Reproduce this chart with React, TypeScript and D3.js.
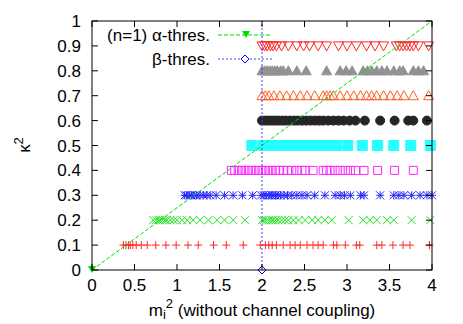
import React from "react";
import * as d3 from "d3";

// kappa^2 rows and the m_i^2 values where a marker sits on each row
const rowKappa = [0.1, 0.2, 0.3, 0.4, 0.5, 0.6, 0.7, 0.8, 0.9];

const row01 = [0.37, 0.4, 0.43, 0.45, 0.48, 0.52, 0.58, 0.65, 0.75, 0.87, 0.99, 1.13, 1.25, 1.43, 1.58, 1.78, 1.98, 2.04, 2.08, 2.12, 2.17, 2.25, 2.33, 2.39, 2.45, 2.53, 2.6, 2.66, 2.72, 2.84, 2.88, 2.98, 3.11, 3.15, 3.35, 3.41, 3.54, 3.66, 3.74, 3.97];
const row02 = [0.72, 0.75, 0.78, 0.8, 0.83, 0.86, 0.88, 0.92, 0.96, 1.0, 1.06, 1.12, 1.19, 1.27, 1.37, 1.47, 1.56, 1.66, 1.8, 2.0, 2.02, 2.05, 2.08, 2.11, 2.13, 2.16, 2.19, 2.23, 2.27, 2.31, 2.37, 2.43, 2.51, 2.59, 2.66, 2.74, 2.82, 3.02, 3.19, 3.27, 3.35, 3.47, 3.55, 3.76, 3.98];
const row03 = [1.09, 1.11, 1.15, 1.17, 1.21, 1.23, 1.27, 1.31, 1.35, 1.39, 1.46, 1.56, 1.66, 1.77, 1.89, 1.99, 2.02, 2.05, 2.08, 2.11, 2.13, 2.16, 2.19, 2.22, 2.26, 2.3, 2.35, 2.41, 2.47, 2.53, 2.62, 2.74, 2.86, 2.92, 2.97, 3.04, 3.16, 3.2, 3.39, 3.55, 3.61, 3.67, 3.76, 3.86, 3.94, 4.0];
const row04 = [1.64, 1.68, 1.72, 1.76, 1.8, 1.84, 1.88, 1.92, 1.96, 2.0, 2.04, 2.08, 2.12, 2.16, 2.2, 2.25, 2.3, 2.35, 2.41, 2.47, 2.51, 2.6, 2.72, 2.76, 2.8, 2.86, 2.92, 2.98, 3.04, 3.1, 3.2, 3.36, 3.56, 3.78];
const row05 = [1.88, 2.01, 2.05, 2.1, 2.15, 2.2, 2.25, 2.3, 2.35, 2.4, 2.45, 2.5, 2.55, 2.6, 2.65, 2.7, 2.75, 2.8, 2.85, 2.88, 3.01, 3.18, 3.36, 3.55, 3.75, 3.98];
const row06 = [2.0, 2.04, 2.08, 2.12, 2.16, 2.2, 2.24, 2.28, 2.33, 2.38, 2.42, 2.47, 2.52, 2.57, 2.62, 2.67, 2.72, 2.78, 2.84, 2.9, 2.96, 3.03, 3.1, 3.21, 3.39, 3.56, 3.72, 3.78, 3.94];
const row07 = [2.0, 2.04, 2.08, 2.14, 2.21, 2.29, 2.37, 2.45, 2.53, 2.62, 2.72, 2.76, 2.8, 2.84, 2.92, 3.0, 3.08, 3.16, 3.23, 3.29, 3.35, 3.43, 3.51, 3.59, 3.67, 3.78, 3.96];
const row08 = [2.0, 2.03, 2.06, 2.09, 2.12, 2.15, 2.18, 2.22, 2.25, 2.31, 2.41, 2.52, 2.76, 2.92, 2.99, 3.06, 3.19, 3.24, 3.29, 3.35, 3.41, 3.47, 3.55, 3.62, 3.66, 3.78, 3.84, 3.9];
const row09 = [2.0, 2.03, 2.06, 2.1, 2.13, 2.17, 2.23, 2.31, 2.41, 2.49, 2.56, 2.66, 2.76, 2.9, 3.0, 3.11, 3.23, 3.33, 3.43, 3.58, 3.62, 3.66, 3.7, 3.74, 3.78, 3.84, 3.96];

const rowValues = [row01, row02, row03, row04, row05, row06, row07, row08, row09];
const rowShapes = ["plus", "cross", "star", "square", "fsquare", "fcircle", "tri", "ftri", "tridown"];
const rowColors = ["#ff0000", "#00e000", "#0000ff", "#ff00ff", "#00ffff", "#000000", "#ff4500", "#808080", "#ff0000"];

// threshold lines
const alphaLine = [[0, 0], [4, 1]];
const betaLine = [[2, 0], [2, 1]];

const xTicks = [0, 0.5, 1, 1.5, 2, 2.5, 3, 3.5, 4];
const yTicks = [0, 0.1, 0.2, 0.3, 0.4, 0.5, 0.6, 0.7, 0.8, 0.9, 1];

const W = 463;
const H = 324;
const left = 92;
const right = 432;
const top = 21;
const bottom = 270;
const font = "'Liberation Sans', Arial, sans-serif";
const fs = 17;

function symbolPath(shape: string, x: number, y: number) {
  const s = 4;
  switch (shape) {
    case "plus":
      return `M${x - s},${y}H${x + s}M${x},${y - s}V${y + s}`;
    case "cross":
      return `M${x - s},${y - s}L${x + s},${y + s}M${x - s},${y + s}L${x + s},${y - s}`;
    case "star":
      return `M${x - s},${y}H${x + s}M${x},${y - s}V${y + s}M${x - s},${y - s}L${x + s},${y + s}M${x - s},${y + s}L${x + s},${y - s}`;
    case "square":
      return `M${x - s},${y - s}h${2 * s}v${2 * s}h${-2 * s}Z`;
    case "fsquare":
      return `M${x - 5},${y - 5}h10v10h-10Z`;
    case "fcircle":
      return `M${x - 4.5},${y}a4.5,4.5 0 1,0 9,0a4.5,4.5 0 1,0 -9,0Z`;
    case "tri":
    case "ftri":
      return `M${x},${y - 5}L${x + 5},${y + 4}L${x - 5},${y + 4}Z`;
    case "tridown":
      return `M${x},${y + 5}L${x + 5},${y - 4}L${x - 5},${y - 4}Z`;
    default:
      return "";
  }
}

const filled = (shape: string) => shape.startsWith("f");

export default function App() {
  const x = d3.scaleLinear().domain([0, 4]).range([left, right]);
  const y = d3.scaleLinear().domain([0, 1]).range([bottom, top]);
  const line = d3.line<number[]>().x((d) => x(d[0])).y((d) => y(d[1]));
  const tl = 6;

  return (
    <svg width={W} height={H} style={{ position: "absolute", left: 0, top: 0 }} fontFamily={font}>
      <rect width={W} height={H} fill="#fff" />

      {rowValues.map((vals, i) => {
        const shape = rowShapes[i];
        const c = rowColors[i];
        return (
          <g key={i} opacity={0.85}>
            {vals.map((v, j) => (
              <path
                key={j}
                d={symbolPath(shape, x(v), y(rowKappa[i]))}
                fill={filled(shape) ? c : "none"}
                stroke={c}
                strokeWidth={1}
              />
            ))}
          </g>
        );
      })}

      {/* alpha threshold */}
      <path d={line(alphaLine as any) || ""} stroke="#00dd00" strokeWidth={1} strokeDasharray="4,2" fill="none" />
      <path d={`M${x(0) - 4},${y(0) - 4}h8l-4,7Z`} fill="#00dd00" />
      {/* beta threshold */}
      <path d={line(betaLine as any) || ""} stroke="#4040ff" strokeWidth={1} strokeDasharray="2,2" fill="none" />
      <path d={`M${x(2)},${y(0) - 4}l4,4l-4,4l-4,-4Z`} fill="#fff" stroke="#0000ff" />

      {/* frame and ticks */}
      <rect x={left} y={top} width={right - left} height={bottom - top} fill="none" stroke="#000" strokeWidth={1} />
      {xTicks.map((t) => (
        <g key={"x" + t}>
          <line x1={x(t)} x2={x(t)} y1={bottom} y2={bottom - tl} stroke="#000" />
          <line x1={x(t)} x2={x(t)} y1={top} y2={top + tl} stroke="#000" />
          <text x={x(t)} y={bottom + 21} fontSize={fs} textAnchor="middle">{t}</text>
        </g>
      ))}
      {yTicks.map((t) => (
        <g key={"y" + t}>
          <line x1={left} x2={left + tl} y1={y(t)} y2={y(t)} stroke="#000" />
          <line x1={right} x2={right - tl} y1={y(t)} y2={y(t)} stroke="#000" />
          <text x={left - 11} y={y(t) + 6} fontSize={fs} textAnchor="end">{t}</text>
        </g>
      ))}

      {/* legend */}
      <text x={210} y={41} fontSize={fs} textAnchor="end">(n=1) α-thres.</text>
      <line x1={218} x2={272} y1={35} y2={35} stroke="#00dd00" strokeDasharray="4,2" />
      <path d={`M${246 - 4},${35 - 4}h8l-4,7Z`} fill="#00dd00" />
      <text x={210} y={65} fontSize={fs} textAnchor="end">β-thres.</text>
      <line x1={218} x2={272} y1={59} y2={59} stroke="#4040ff" strokeDasharray="2,2" />
      <path d={`M245,${59 - 4}l4,4l-4,4l-4,-4Z`} fill="#fff" stroke="#0000ff" />

      {/* axis labels */}
      <text transform={`translate(30,145) rotate(-90)`} fontSize={fs} textAnchor="middle">
        κ<tspan dy={-7} fontSize={13}>2</tspan>
      </text>
      <text x={262} y={316} fontSize={fs} textAnchor="middle">
        m<tspan dy={3} fontSize={13}>i</tspan>
        <tspan dy={-11} fontSize={13}>2</tspan>
        <tspan dy={8}> (without channel coupling)</tspan>
      </text>
    </svg>
  );
}
